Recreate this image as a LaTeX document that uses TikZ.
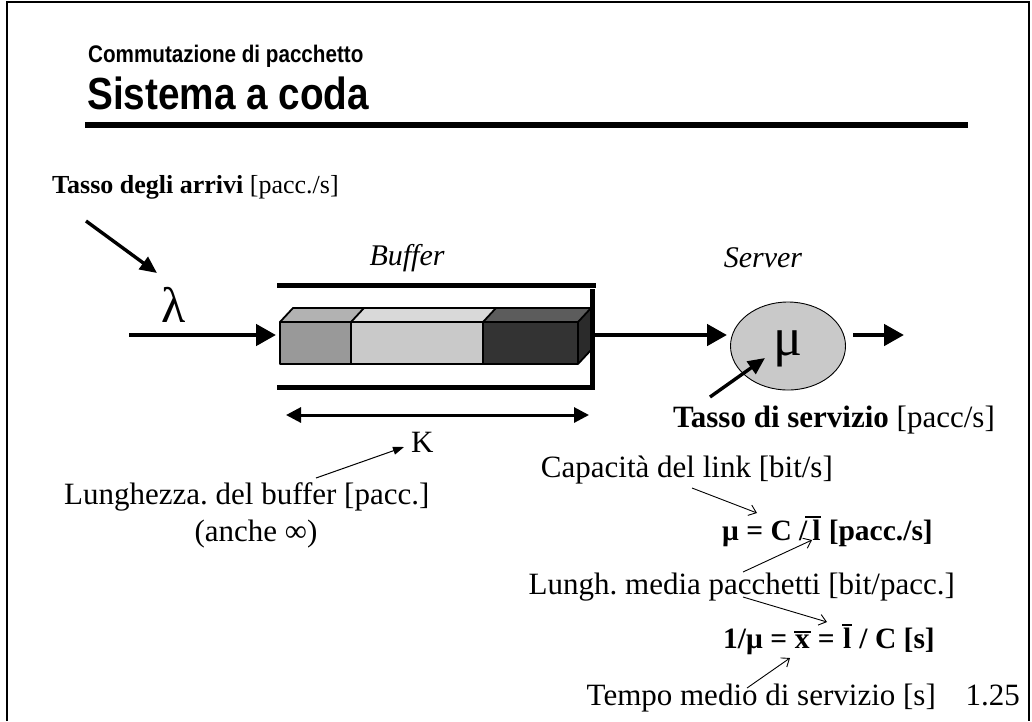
\documentclass[tikz,border=0pt]{standalone}
\usepackage{fontspec}
\setmainfont{Liberation Serif}
\newfontfamily\headfont[FakeStretch=0.86]{Liberation Sans}
\usetikzlibrary{arrows.meta,shapes.geometric}
\frenchspacing

% overline drawn above a letter; the optional argument widens it on the left
\newcommand\barred[2][1pt]{\leavevmode\vbox{\hrule height 1.6pt\kern 1.8pt\hbox{\kern#1#2\kern0.8pt}}}

\begin{document}
\begin{tikzpicture}[x=1pt,y=-1pt,
  body/.style={font=\fontsize{31}{36}\selectfont, inner sep=0pt},
  formula/.style={font=\fontsize{29.5}{34}\selectfont\bfseries, inner sep=0pt},
  smallbody/.style={font=\fontsize{26}{31}\selectfont, inner sep=0pt},
  greek/.style={font=\fontsize{50}{56}\selectfont, inner sep=0pt},
  bigarrow/.style={line width=4.6pt, -{Triangle[length=20pt,width=21pt]}},
  midarrow/.style={line width=3.4pt, -{Triangle[length=17pt,width=15pt]}},
  spanarrow/.style={line width=3pt, {Triangle[length=15pt,width=15pt]}-{Triangle[length=15pt,width=15pt]}},
  thinarrow/.style={line width=1pt, -{Triangle[length=11pt,width=8pt]}},
  openarrow/.style={line width=0.9pt, -{Straight Barb[length=7pt,width=11pt,line width=0.9pt]}},
  wall/.style={line width=5pt},
  packet/.style={draw=black, line width=1.8pt, line join=round}]

% page extent and frame (open at the bottom)
\useasboundingbox (0,0) rectangle (1032,721);
\draw[line width=2.6pt] (7,721) -- (7,2) -- (1029,2) -- (1029,721);

% heading
\node[anchor=base west, inner sep=0pt, font=\headfont\bfseries\fontsize{24}{28}\selectfont] (sub) at (88,62) {Commutazione di pacchetto};
\node[anchor=base west, inner sep=0pt, font=\headfont\bfseries\fontsize{45}{52}\selectfont] (title) at (87,109) {Sistema a coda};
\draw[line width=5.5pt] (85,125) -- (968,125);

% arrival rate
\node[smallbody, anchor=base west] (arr) at (52,193) {\textbf{Tasso degli arrivi} [pacc./s]};
\coordinate (arrtail) at (86,221);
\coordinate (arrtip) at (157,273);
\draw[midarrow] (arrtail) -- (arrtip);
\node[greek, anchor=base] (lambda) at (174,322) {λ};

% input line
\coordinate (in) at (129,335);
\coordinate (bufin) at (276,335);
\draw[bigarrow] (in) -- (bufin);

% buffer walls
\coordinate (wtl) at (277,285.5);
\coordinate (wtr) at (596,285.5);
\coordinate (wbl) at (277,387.5);
\coordinate (wbr) at (592.5,387.5);
\coordinate (wtop) at (592.5,289);
\draw[wall] (wtl) -- (wtr);
\draw[wall] (wbl) -- (wbr) -- (wtop);
\node[anchor=base, inner sep=0pt, font=\fontsize{30}{35}\selectfont\itshape] (buflabel) at (407,265) {Buffer};

% queued packets
\fill[black!30] (280,322) -- (293,308) -- (364,308) -- (351,322) -- cycle;
\fill[black!15] (351,322) -- (364,308) -- (496,308) -- (483,322) -- cycle;
\fill[black!64] (483,322) -- (496,308) -- (591,308) -- (578,322) -- cycle;
\fill[black!83] (578,322) -- (591,308) -- (591,350) -- (578,364) -- cycle;
\fill[black!40] (280,322) rectangle (351,364);
\fill[black!21] (351,322) rectangle (483,364);
\fill[black!80] (483,322) rectangle (578,364);
\draw[packet] (280,322) rectangle (351,364);
\draw[packet] (351,322) rectangle (483,364);
\draw[packet] (483,322) rectangle (578,364);
\draw[packet] (280,322) -- (293,308) -- (591,308) -- (591,350) -- (578,364);
\draw[packet] (351,322) -- (364,308);
\draw[packet] (483,322) -- (496,308);
\draw[packet] (578,322) -- (591,308);

% server
\node[draw=black, line width=0.9pt, fill=black!21, ellipse, minimum width=115pt, minimum height=88pt, inner sep=0pt] (server) at (788,346) {};
\node[anchor=base, inner sep=0pt, font=\fontsize{54}{60}\selectfont] (mu) at (788,355) {μ};
\node[anchor=base, inner sep=0pt, font=\fontsize{30}{35}\selectfont\itshape] (srvlabel) at (763,267) {Server};
\coordinate (bufout) at (592,335);
\coordinate (srvin) at (727,335);
\draw[bigarrow] (bufout) -- (srvin);
\coordinate (out) at (853,335);
\coordinate (outtip) at (904,335);
\draw[bigarrow] (out) -- (outtip);

% service rate
\node[body, anchor=base east] (srate) at (995,427) {\textbf{Tasso di servizio} [pacc/s]};
\coordinate (srtail) at (710,397);
\coordinate (srtip) at (765,358);
\draw[midarrow] (srtail) -- (srtip);

% buffer length
\coordinate (kl) at (286,415);
\coordinate (kr) at (589,415);
\draw[spanarrow] (kl) -- (kr);
\node[body, anchor=base west] (K) at (411,452) {K};
\node[body, anchor=base west] (len) at (64,504) {Lunghezza. del buffer [pacc.]};
\node[body, anchor=base] (inf) at (256,541) {(anche ∞)};
\coordinate (lentail) at (316,478);
\coordinate (lentip) at (404,447);
\draw[thinarrow] (lentail) -- (lentip);

% link capacity and formulas
\node[body, anchor=base east] (cap) at (833,477) {Capacità del link [bit/s]};
\node[formula, anchor=base east] (f1) at (933,540) {μ = C /\kern-2pt\barred[7pt]{l} [pacc./s]};
\node[body, anchor=base east] (lm) at (955,594) {Lungh. media pacchetti [bit/pacc.]};
\node[formula, anchor=base east] (f2) at (935,648) {1/μ = \barred[0.5pt]{x} = \barred[1pt]{l} / C [s]};
\node[body, anchor=base east] (tm) at (936,705) {Tempo medio di servizio [s]};
\node[body, anchor=base east] (pg) at (1020,705) {1.25};

\coordinate (c1) at (692,488);
\coordinate (c1tip) at (757,513);
\draw[openarrow] (c1) -- (c1tip);
\coordinate (c2) at (743,572);
\coordinate (c2tip) at (812,540);
\draw[openarrow] (c2) -- (c2tip);
\coordinate (c3) at (743,597);
\coordinate (c3tip) at (827,622);
\draw[openarrow] (c3) -- (c3tip);
\coordinate (c4) at (747,688);
\coordinate (c4tip) at (790,658);
\draw[openarrow] (c4) -- (c4tip);
\end{tikzpicture}
\end{document}
